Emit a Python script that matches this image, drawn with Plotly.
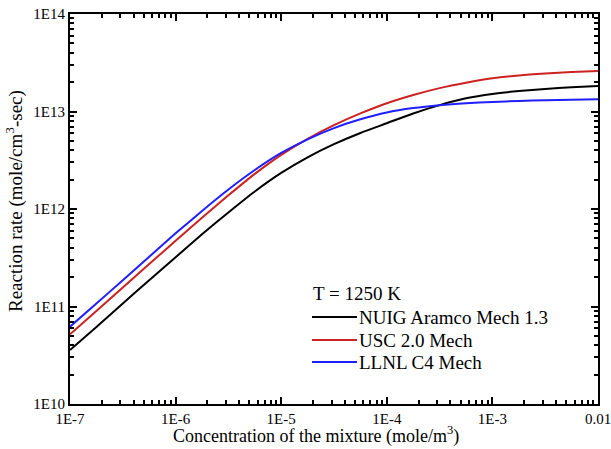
import numpy as np
import plotly.graph_objects as go

# Concentration of the mixture, log10(mole/m^3)
log_conc = [-7.0, -6.75, -6.5, -6.25, -6.0, -5.75, -5.5, -5.25, -5.0, -4.75, -4.5,
            -4.25, -4.0, -3.75, -3.5, -3.25, -3.0, -2.75, -2.5, -2.25, -2.0]

# Reaction rate, log10(mole/cm^3-sec), T = 1250 K
nuig_rate = [10.554, 10.79, 11.03, 11.27, 11.505, 11.74, 11.965, 12.18, 12.37, 12.53, 12.665,
             12.78, 12.88, 12.98, 13.065, 13.135, 13.18, 13.21, 13.232, 13.25, 13.262]
usc_rate = [10.715, 10.955, 11.195, 11.435, 11.675, 11.91, 12.14, 12.36, 12.555, 12.72, 12.86,
            12.98, 13.085, 13.17, 13.24, 13.295, 13.34, 13.37, 13.39, 13.405, 13.415]
llnl_rate = [10.793, 11.03, 11.27, 11.51, 11.75, 11.98, 12.20, 12.40, 12.575, 12.715, 12.83,
             12.92, 12.99, 13.035, 13.065, 13.085, 13.098, 13.108, 13.115, 13.12, 13.125]

series_names = ["NUIG Aramco Mech 1.3", "USC 2.0 Mech", "LLNL C4 Mech"]
series_rates = [nuig_rate, usc_rate, llnl_rate]
series_colors = ["#000000", "#cc2222", "#1f1fff"]
legend_title = "T = 1250 K"

x_tick_vals = [1e-7, 1e-6, 1e-5, 1e-4, 1e-3, 1e-2]
x_tick_text = ["1E-7", "1E-6", "1E-5", "1E-4", "1E-3", "0.01"]
y_tick_vals = [1e10, 1e11, 1e12, 1e13, 1e14]
y_tick_text = ["1E10", "1E11", "1E12", "1E13", "1E14"]

W, H = 611, 449
ML, MR, MT, MB = 70, 13, 14, 45
PW, PH = W - ML - MR, H - MT - MB
EPS = 1e-6  # keeps the end decades' ticks inside the axis range


def px_x(p):
    """Pixel column -> paper x."""
    return (p - ML) / PW


def px_y(p):
    """Pixel row -> paper y."""
    return (H - MB - p) / PH


def minor_vals(lo, hi):
    return [m * 10.0 ** e for e in range(lo, hi) for m in range(2, 10)]


conc = 10.0 ** np.array(log_conc)
font_family = "Liberation Serif, Times New Roman, serif"

fig = go.Figure()
for name, vals, color in zip(series_names, series_rates, series_colors):
    fig.add_trace(go.Scatter(
        x=conc, y=10.0 ** np.array(vals), mode="lines", name=name, showlegend=False,
        line=dict(color=color, width=2, shape="spline", smoothing=0.6),
    ))

axis_common = dict(
    type="log", showgrid=False, zeroline=False, automargin=False,
    showline=True, linecolor="black", linewidth=2, mirror="ticks",
    ticks="inside", ticklen=7, tickwidth=1.5, tickcolor="black",
    ticklabeloverflow="allow",
    tickfont=dict(family=font_family, size=15, color="black"),
)

fig.update_xaxes(
    **axis_common, range=[-7 - EPS, -2 + EPS],
    tickmode="array", tickvals=x_tick_vals, ticktext=x_tick_text,
    minor=dict(tickmode="array", tickvals=minor_vals(-7, -2), ticks="inside",
               ticklen=4, tickwidth=1.5, tickcolor="black"),
)
fig.update_yaxes(
    **axis_common, range=[10 - EPS, 14 + EPS],
    tickmode="array", tickvals=y_tick_vals, ticktext=y_tick_text,
    minor=dict(tickmode="array", tickvals=minor_vals(10, 14), ticks="inside",
               ticklen=4, tickwidth=1.5, tickcolor="black"),
)

# Axis titles
fig.add_annotation(
    text="Concentration of the mixture (mole/m<sup>3</sup>)",
    xref="paper", yref="paper", x=px_x(316), y=px_y(435),
    xanchor="center", yanchor="middle", showarrow=False,
    font=dict(family=font_family, size=18, color="black"),
)
fig.add_annotation(
    text="Reaction rate (mole/cm<sup>3</sup>-sec)",
    xref="paper", yref="paper", x=px_x(15), y=px_y(201), textangle=-90,
    xanchor="center", yanchor="middle", showarrow=False,
    font=dict(family=font_family, size=19, color="black"),
)

# Legend box: title, then a line sample and label per mechanism
fig.add_annotation(
    text=legend_title, xref="paper", yref="paper", x=px_x(311), y=px_y(293),
    xanchor="left", yanchor="middle", showarrow=False,
    font=dict(family=font_family, size=19, color="black"),
)
legend_rows = [317, 340, 362]
for row, name, color in zip(legend_rows, series_names, series_colors):
    fig.add_shape(
        type="line", xref="paper", yref="paper",
        x0=px_x(312), x1=px_x(357), y0=px_y(row), y1=px_y(row),
        line=dict(color=color, width=2),
    )
    fig.add_annotation(
        text=name, xref="paper", yref="paper", x=px_x(357), y=px_y(row),
        xanchor="left", yanchor="middle", showarrow=False,
        font=dict(family=font_family, size=19, color="black"),
    )

fig.update_layout(
    width=W, height=H,
    margin=dict(l=ML, r=MR, t=MT, b=MB),
    paper_bgcolor="white", plot_bgcolor="white",
    font=dict(family=font_family, color="black"),
    showlegend=False,
)

fig.write_html("out.html")
